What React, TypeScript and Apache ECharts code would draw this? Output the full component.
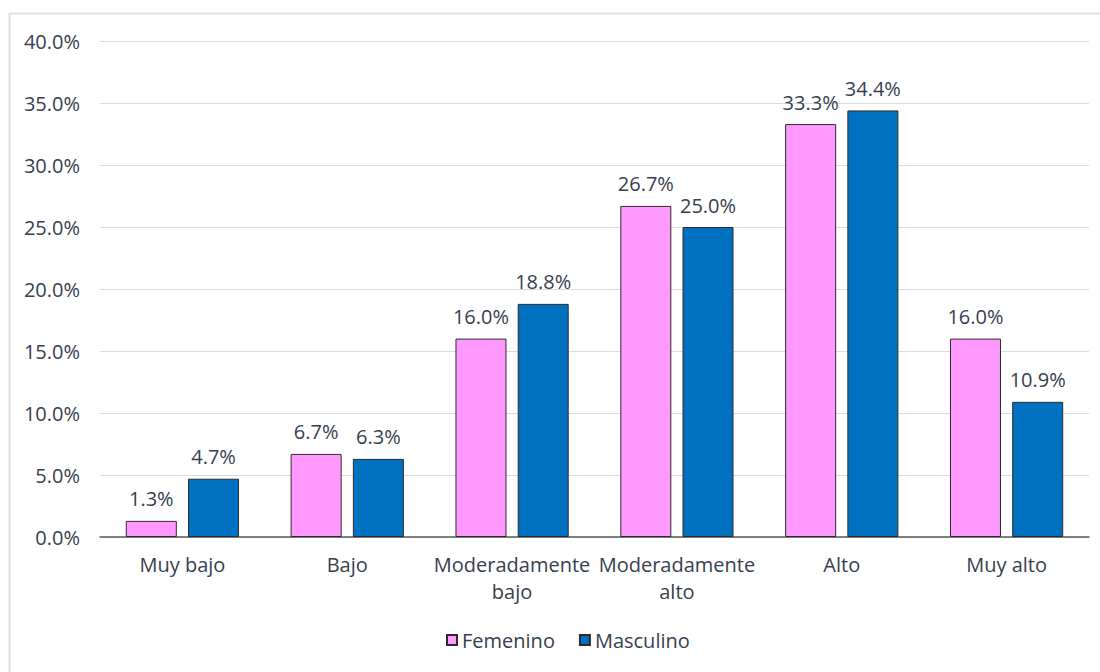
import React, { useEffect, useRef } from "react";
import * as echarts from "echarts";

// Distribution by level and sex (share of each group)
const categories = ["Muy bajo", "Bajo", "Moderadamente\nbajo", "Moderadamente\nalto", "Alto", "Muy alto"];
const femenino = [1.3, 6.7, 16.0, 26.7, 33.3, 16.0];
const masculino = [4.7, 6.3, 18.8, 25.0, 34.4, 10.9];
const seriesNames = ["Femenino", "Masculino"];

const TEXT = "#36404f";
const FONT = "'Open Sans', 'Noto Sans', sans-serif";
const FS = 20;

export default function App() {
  const ref = useRef<HTMLDivElement>(null);

  useEffect(() => {
    if (!ref.current) return;
    const chart = echarts.init(ref.current, undefined, { renderer: "svg" });

    const barSeries = (name: string, data: number[], color: string) => ({
      name,
      type: "bar",
      data,
      barWidth: 51,
      barGap: "22%",
      itemStyle: { color, borderColor: "#2b2b2b", borderWidth: 1 },
      label: {
        show: true,
        position: "top",
        distance: 12,
        color: TEXT,
        fontFamily: FONT,
        fontSize: FS,
        formatter: (p: any) => p.value.toFixed(1) + "%",
      },
    });

    chart.setOption({
      animation: false,
      backgroundColor: "#ffffff",
      textStyle: { fontFamily: FONT },
      graphic: [
        {
          type: "rect",
          shape: { x: 9.5, y: 13.5, width: 1200, height: 800 },
          style: { fill: "none", stroke: "#dcdfe6", lineWidth: 2 },
          silent: true,
        },
      ],
      grid: { left: 100, right: 11, top: 41, bottom: 135 },
      legend: {
        data: seriesNames,
        bottom: 17,
        left: 441,
        icon: "rect",
        itemWidth: 10,
        itemHeight: 10,
        itemGap: 24,
        textStyle: { color: TEXT, fontSize: FS, fontFamily: FONT },
      },
      xAxis: {
        type: "category",
        data: categories,
        axisLine: { lineStyle: { color: "#595959", width: 1.5 } },
        axisTick: { show: false },
        axisLabel: {
          color: TEXT,
          fontSize: FS,
          fontFamily: FONT,
          margin: 14,
          lineHeight: 27,
          interval: 0,
        },
      },
      yAxis: {
        type: "value",
        min: 0,
        max: 40,
        interval: 5,
        axisLine: { show: false },
        axisTick: { show: false },
        splitLine: { lineStyle: { color: "#d9dce3", width: 1 } },
        axisLabel: {
          color: TEXT,
          fontSize: FS,
          fontFamily: FONT,
          margin: 20,
          formatter: (v: number) => v.toFixed(1) + "%",
        },
      },
      series: [
        barSeries(seriesNames[0], femenino, "#ff99ff"),
        barSeries(seriesNames[1], masculino, "#0070c0"),
      ],
    });

    return () => chart.dispose();
  }, []);

  return (
    <div
      ref={ref}
      style={{ position: "absolute", left: 0, top: 0, width: 1100, height: 672 }}
    />
  );
}
